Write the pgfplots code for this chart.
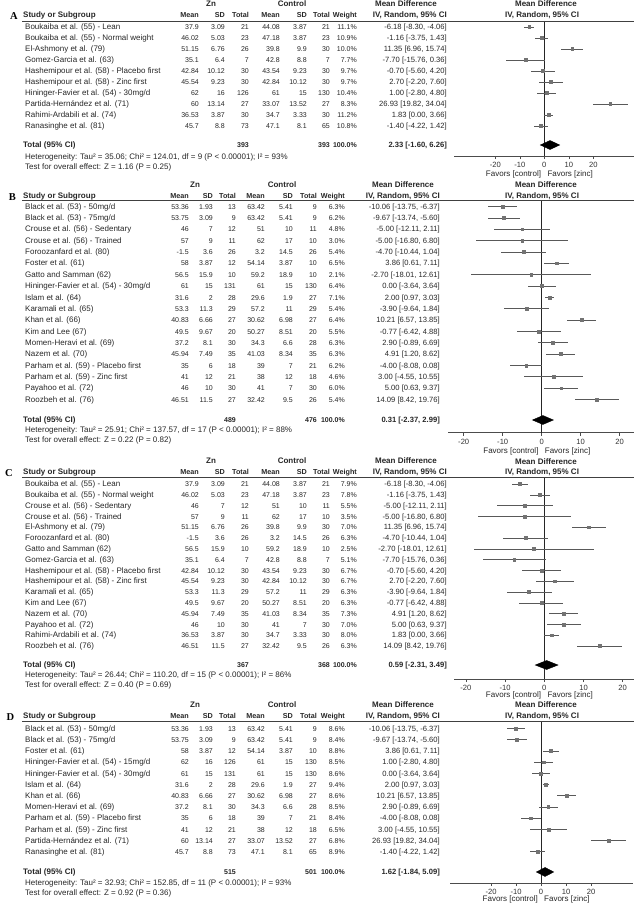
\documentclass[border=0pt]{standalone}
\usepackage{fontspec}
\setmainfont{Liberation Sans}
\newfontfamily\lserif{Liberation Serif}
\usepackage{pgfplots}
\pgfplotsset{compat=1.18}
\newcommand\fs{\fontsize{8.0}{9}\selectfont}
\newcommand\fn{\fontsize{7.0}{8.4}\selectfont}
\newcommand\fh{\fontsize{7.2}{8.6}\selectfont\bfseries}
\newcommand\fci{\fontsize{7.6}{9}\selectfont}
\tikzset{tx/.style={font=\fs, inner sep=0pt, text=black!85}}
\pgfplotsset{forest/.style={
  scale only axis, clip=false,
  axis x line*=bottom, axis y line=none,
  y dir=reverse,
  xtick={-20,-10,0,10,20}, xticklabels={-20,-10,0,10,20},
  tick align=outside, major tick length=3pt,
  tick style={black!70, line width=0.5pt},
  axis line style={black!70, line width=0.6pt},
  xticklabel style={font=\fci, text=black!80},
  ytick=\empty,
}}
\pgfplotsset{ci/.style={only marks, mark=square*, mark size=1.4pt,
  mark options={fill=black!55, draw=black!55},
  error bars/.cd, x dir=both, x explicit, error mark=none,
  error bar style={black!65, line width=0.6pt}}}

\def\cols{{199,225,249,280,307,330,357,447}}
\def\pz{27}\def\ps{11}
\def\znx{211}\def\ctlx{292}\def\mdx{406}

\newcommand\trow[3]{%
  \pgfmathsetmacro\ry{\pz+\ps*(#1-1)+2.7}%
  \node[tx,anchor=base west] at (25,\ry) {#2};
  \foreach \v [count=\i] in {#3}{%
    \pgfmathsetmacro\cx{\cols[\i-1]}%
    \ifnum\i<8 \def\ff{\fn}\else\def\ff{\fci}\fi
    \node[tx,font=\ff,anchor=base east] at (\cx,\ry) {\v};
  }%
}
\newcommand\header[1]{%
  \pgfmathsetmacro\hy{#1+2.7}%
  \pgfmathsetmacro\gy{#1-11+2.7}%
  \node[tx,font=\fs\bfseries,anchor=base] at (\znx,\gy) {Zn};
  \node[tx,font=\fs\bfseries,anchor=base] at (\ctlx,\gy) {Control};
  \node[tx,font=\fs\bfseries,anchor=base] at (\mdx,\gy) {Mean Difference};
  \node[tx,font=\fs\bfseries,anchor=base west] at (23,\hy) {Study or Subgroup};
  \foreach \v [count=\i] in {Mean,SD,Total,Mean,SD,Total,Weight,{IV, Random, 95\% CI}}{%
    \pgfmathsetmacro\cx{\cols[\i-1]}%
    \ifnum\i<8 \def\ff{\fh}\else\def\ff{\fs\bfseries}\fi
    \node[tx,font=\ff,anchor=base east] at (\cx,\hy) {\v};
  }%
}
\newcommand\total[4]{%
  \pgfmathsetmacro\ty{#1+2.7}%
  \node[tx,font=\fs\bfseries,anchor=base west] at (23,\ty) {Total (95\% CI)};
  \pgfmathsetmacro\cx{\cols[2]}\node[tx,font=\fn\bfseries,anchor=base east] at (\cx,\ty) {#2};
  \pgfmathsetmacro\cx{\cols[5]}\node[tx,font=\fn\bfseries,anchor=base east] at (\cx,\ty) {#3};
  \pgfmathsetmacro\cx{\cols[6]}\node[tx,font=\fn\bfseries,anchor=base east] at (\cx,\ty) {100.0\%};
  \pgfmathsetmacro\cx{\cols[7]}\node[tx,font=\fci\bfseries,anchor=base east] at (\cx,\ty) {#4};
}
\newcommand\foot[3]{% y, x0
  \node[tx,anchor=base east] at (#2-3,#1+2.7) {Favors [control]};
  \node[tx,anchor=base west] at (#2+3,#1+2.7) {Favors [zinc]};
}

\begin{document}
\begin{tikzpicture}
\path[use as bounding box] (0,0) rectangle (642pt,-904pt);

% ================= PANEL A =================
\begin{axis}[forest, at={(454pt,-156pt)}, anchor=south west, width=180pt, height=135pt,
  xmin=-36.857, xmax=36.612, ymin=0.4545, ymax=12.727]
\addplot[black!85, line width=0.6pt] coordinates {(0,0.4545) (0,12.727)};
\addplot[ci] table[x=md, y=k, x error plus expr=\thisrow{hi}-\thisrow{md}, x error minus expr=\thisrow{md}-\thisrow{lo}] {
k md lo hi
1 -6.18 -8.30 -4.06
2 -1.16 -3.75 1.43
3 11.35 6.96 15.74
4 -7.70 -15.76 0.36
5 -0.70 -5.60 4.20
6 2.70 -2.20 7.60
7 1.00 -2.80 4.80
8 26.93 19.82 34.04
9 1.83 0.00 3.66
10 -1.40 -4.22 1.42
};
\addplot[fill=black, draw=black] coordinates {(-1.60,11.727) (2.33,11.318) (6.26,11.727) (2.33,12.136)} -- cycle;
\end{axis}

% ================= PANEL B =================
\begin{axis}[forest, at={(448pt,-432.7pt)}, anchor=south west, width=186pt, height=232.2pt,
  xmin=-24.03, xmax=23.67, ymin=0.4714, ymax=20.93]
\addplot[black!85, line width=0.6pt] coordinates {(0,0.4714) (0,20.93)};
\addplot[ci] table[x=md, y=k, x error plus expr=\thisrow{hi}-\thisrow{md}, x error minus expr=\thisrow{md}-\thisrow{lo}] {
k md lo hi
1 -10.06 -13.75 -6.37
2 -9.67 -13.74 -5.60
3 -5.00 -12.11 2.11
4 -5.00 -16.80 6.80
5 -4.70 -10.44 1.04
6 3.86 0.61 7.11
7 -2.70 -18.01 12.61
8 0.00 -3.64 3.64
9 2.00 0.97 3.03
10 -3.90 -9.64 1.84
11 10.21 6.57 13.85
12 -0.77 -6.42 4.88
13 2.90 -0.89 6.69
14 4.91 1.20 8.62
15 -4.00 -8.08 0.08
16 3.00 -4.55 10.55
17 5.00 0.63 9.37
18 14.09 8.42 19.76
};
\addplot[fill=black, draw=black] coordinates {(-2.37,19.81) (0.31,19.414) (2.99,19.81) (0.31,20.206)} -- cycle;
\end{axis}

% ================= PANEL C =================
\begin{axis}[forest, at={(454pt,-679pt)}, anchor=south west, width=180pt, height=202pt,
  xmin=-23.04, xmax=22.88, ymin=0.352, ymax=19.056]
\addplot[black!85, line width=0.6pt] coordinates {(0,0.352) (0,19.056)};
\addplot[ci] table[x=md, y=k, x error plus expr=\thisrow{hi}-\thisrow{md}, x error minus expr=\thisrow{md}-\thisrow{lo}] {
k md lo hi
1 -6.18 -8.30 -4.06
2 -1.16 -3.75 1.43
3 -5.00 -12.11 2.11
4 -5.00 -16.80 6.80
5 11.35 6.96 15.74
6 -4.70 -10.44 1.04
7 -2.70 -18.01 12.61
8 -7.70 -15.76 0.36
9 -0.70 -5.60 4.20
10 2.70 -2.20 7.60
11 -3.90 -9.64 1.84
12 -0.77 -6.42 4.88
13 4.91 1.20 8.62
14 5.00 0.63 9.37
15 1.83 0.00 3.66
16 14.09 8.42 19.76
};
\addplot[fill=black, draw=black] coordinates {(-2.31,17.76) (0.59,17.343) (3.49,17.76) (0.59,18.177)} -- cycle;
\end{axis}

% ================= PANEL D =================
\begin{axis}[forest, at={(450pt,-883pt)}, anchor=south west, width=183pt, height=162pt,
  xmin=-36.4, xmax=36.8, ymin=0.3304, ymax=14.795]
\addplot[black!85, line width=0.6pt] coordinates {(0,0.3304) (0,14.795)};
\addplot[ci] table[x=md, y=k, x error plus expr=\thisrow{hi}-\thisrow{md}, x error minus expr=\thisrow{md}-\thisrow{lo}] {
k md lo hi
1 -10.06 -13.75 -6.37
2 -9.67 -13.74 -5.60
3 3.86 0.61 7.11
4 1.00 -2.80 4.80
5 0.00 -3.64 3.64
6 2.00 0.97 3.03
7 10.21 6.57 13.85
8 2.90 -0.89 6.69
9 -4.00 -8.08 0.08
10 3.00 -4.55 10.55
11 26.93 19.82 34.04
12 -1.40 -4.22 1.42
};
\addplot[fill=black, draw=black] coordinates {(-1.84,13.81) (1.62,13.408) (5.09,13.81) (1.62,14.212)} -- cycle;
\end{axis}

\begin{scope}[x=1pt, y=-1pt]
% right-hand column headers / axis titles
\foreach \yy in {4,185,462,705}{\node[tx,font=\fs\bfseries,anchor=base] at (546,\yy+2.7) {Mean Difference};}
\foreach \yy in {15,196,472,716}{\node[tx,font=\fs\bfseries,anchor=base] at (542,\yy+2.7) {IV, Random, 95\% CI};}

% ---------- A ----------
\node[anchor=base, inner sep=0pt, font=\lserif\fontsize{10.5}{12}\selectfont\bfseries] at (14,19.5) {A};
\header{15}
\draw[black!75, line width=0.6pt] (22,21) -- (634,21);
\def\pz{27}\def\ps{11}
\trow{1}{Boukaiba et al. (55) - Lean}{37.9,3.09,21,44.08,3.87,21,11.1\%,{-6.18 [-8.30, -4.06]}}
\trow{2}{Boukaiba et al. (55) - Normal weight}{46.02,5.03,23,47.18,3.87,23,10.9\%,{-1.16 [-3.75, 1.43]}}
\trow{3}{El-Ashmony et al. (79)}{51.15,6.76,26,39.8,9.9,30,10.0\%,{11.35 [6.96, 15.74]}}
\trow{4}{Gomez-Garcia et al. (63)}{35.1,6.4,7,42.8,8.8,7,7.7\%,{-7.70 [-15.76, 0.36]}}
\trow{5}{Hashemipour et al. (58) - Placebo first}{42.84,10.12,30,43.54,9.23,30,9.7\%,{-0.70 [-5.60, 4.20]}}
\trow{6}{Hashemipour et al. (58) - Zinc first}{45.54,9.23,30,42.84,10.12,30,9.7\%,{2.70 [-2.20, 7.60]}}
\trow{7}{Hininger-Favier et al. (54) - 30mg/d}{62,16,126,61,15,130,10.4\%,{1.00 [-2.80, 4.80]}}
\trow{8}{Partida-Hernández et al. (71)}{60,13.14,27,33.07,13.52,27,8.3\%,{26.93 [19.82, 34.04]}}
\trow{9}{Rahimi-Ardabili et al. (74)}{36.53,3.87,30,34.7,3.33,30,11.2\%,{1.83 [0.00, 3.66]}}
\trow{10}{Ranasinghe et al. (81)}{45.7,8.8,73,47.1,8.1,65,10.8\%,{-1.40 [-4.22, 1.42]}}
\total{145}{393}{393}{2.33 [-1.60, 6.26]}
\node[tx,anchor=base west] at (25,159.7) {Heterogeneity: Tau² = 35.06; Chi² = 124.01, df = 9 (P < 0.00001); I² = 93\%};
\node[tx,anchor=base west] at (25,169.7) {Test for overall effect: Z = 1.16 (P = 0.25)};
\foot{174}{544.3}{}

% ---------- B ----------
\def\cols{{189,213,236,265,293,317,345,440}}
\def\znx{195}\def\ctlx{282}\def\mdx{403}
\node[anchor=base, inner sep=0pt, font=\lserif\fontsize{10.5}{12}\selectfont\bfseries] at (12.5,200.5) {B};
\header{196}
\draw[black!75, line width=0.6pt] (22,200.5) -- (634,200.5);
\def\pz{206.5}\def\ps{11.35}
\trow{1}{Black et al. (53) - 50mg/d}{53.36,1.93,13,63.42,5.41,9,6.3\%,{-10.06 [-13.75, -6.37]}}
\trow{2}{Black et al. (53) - 75mg/d}{53.75,3.09,9,63.42,5.41,9,6.2\%,{-9.67 [-13.74, -5.60]}}
\trow{3}{Crouse et al. (56) - Sedentary}{46,7,12,51,10,11,4.8\%,{-5.00 [-12.11, 2.11]}}
\trow{4}{Crouse et al. (56) - Trained}{57,9,11,62,17,10,3.0\%,{-5.00 [-16.80, 6.80]}}
\trow{5}{Foroozanfard et al. (80)}{-1.5,3.6,26,3.2,14.5,26,5.4\%,{-4.70 [-10.44, 1.04]}}
\trow{6}{Foster et al. (61)}{58,3.87,12,54.14,3.87,10,6.5\%,{3.86 [0.61, 7.11]}}
\trow{7}{Gatto and Samman (62)}{56.5,15.9,10,59.2,18.9,10,2.1\%,{-2.70 [-18.01, 12.61]}}
\trow{8}{Hininger-Favier et al. (54) - 30mg/d}{61,15,131,61,15,130,6.4\%,{0.00 [-3.64, 3.64]}}
\trow{9}{Islam et al. (64)}{31.6,2,28,29.6,1.9,27,7.1\%,{2.00 [0.97, 3.03]}}
\trow{10}{Karamali et al. (65)}{53.3,11.3,29,57.2,11,29,5.4\%,{-3.90 [-9.64, 1.84]}}
\trow{11}{Khan et al. (66)}{40.83,6.66,27,30.62,6.98,27,6.4\%,{10.21 [6.57, 13.85]}}
\trow{12}{Kim and Lee (67)}{49.5,9.67,20,50.27,8.51,20,5.5\%,{-0.77 [-6.42, 4.88]}}
\trow{13}{Momen-Heravi et al. (69)}{37.2,8.1,30,34.3,6.6,28,6.3\%,{2.90 [-0.89, 6.69]}}
\trow{14}{Nazem et al. (70)}{45.94,7.49,35,41.03,8.34,35,6.3\%,{4.91 [1.20, 8.62]}}
\trow{15}{Parham et al. (59) - Placebo first}{35,6,18,39,7,21,6.2\%,{-4.00 [-8.08, 0.08]}}
\trow{16}{Parham et al. (59) - Zinc first}{41,12,21,38,12,18,4.6\%,{3.00 [-4.55, 10.55]}}
\trow{17}{Payahoo et al. (72)}{46,10,30,41,7,30,6.0\%,{5.00 [0.63, 9.37]}}
\trow{18}{Roozbeh et al. (76)}{46.51,11.5,27,32.42,9.5,26,5.4\%,{14.09 [8.42, 19.76]}}
\total{420}{489}{476}{0.31 [-2.37, 2.99]}
\node[tx,anchor=base west] at (25,432) {Heterogeneity: Tau² = 25.91; Chi² = 137.57, df = 17 (P < 0.00001); I² = 88\%};
\node[tx,anchor=base west] at (25,442) {Test for overall effect: Z = 0.22 (P = 0.82)};
\foot{451}{541.7}{}

% ---------- C ----------
\def\cols{{199,225,249,280,307,330,357,447}}
\def\znx{211}\def\ctlx{292}\def\mdx{406}
\node[anchor=base, inner sep=0pt, font=\lserif\fontsize{10.5}{12}\selectfont\bfseries] at (9,476.5) {C};
\header{472}
\draw[black!75, line width=0.6pt] (22,477) -- (634,477);
\def\pz{484}\def\ps{10.8}
\trow{1}{Boukaiba et al. (55) - Lean}{37.9,3.09,21,44.08,3.87,21,7.9\%,{-6.18 [-8.30, -4.06]}}
\trow{2}{Boukaiba et al. (55) - Normal weight}{46.02,5.03,23,47.18,3.87,23,7.8\%,{-1.16 [-3.75, 1.43]}}
\trow{3}{Crouse et al. (56) - Sedentary}{46,7,12,51,10,11,5.5\%,{-5.00 [-12.11, 2.11]}}
\trow{4}{Crouse et al. (56) - Trained}{57,9,11,62,17,10,3.5\%,{-5.00 [-16.80, 6.80]}}
\trow{5}{El-Ashmony et al. (79)}{51.15,6.76,26,39.8,9.9,30,7.0\%,{11.35 [6.96, 15.74]}}
\trow{6}{Foroozanfard et al. (80)}{-1.5,3.6,26,3.2,14.5,26,6.3\%,{-4.70 [-10.44, 1.04]}}
\trow{7}{Gatto and Samman (62)}{56.5,15.9,10,59.2,18.9,10,2.5\%,{-2.70 [-18.01, 12.61]}}
\trow{8}{Gomez-Garcia et al. (63)}{35.1,6.4,7,42.8,8.8,7,5.1\%,{-7.70 [-15.76, 0.36]}}
\trow{9}{Hashemipour et al. (58) - Placebo first}{42.84,10.12,30,43.54,9.23,30,6.7\%,{-0.70 [-5.60, 4.20]}}
\trow{10}{Hashemipour et al. (58) - Zinc first}{45.54,9.23,30,42.84,10.12,30,6.7\%,{2.70 [-2.20, 7.60]}}
\trow{11}{Karamali et al. (65)}{53.3,11.3,29,57.2,11,29,6.3\%,{-3.90 [-9.64, 1.84]}}
\trow{12}{Kim and Lee (67)}{49.5,9.67,20,50.27,8.51,20,6.3\%,{-0.77 [-6.42, 4.88]}}
\trow{13}{Nazem et al. (70)}{45.94,7.49,35,41.03,8.34,35,7.3\%,{4.91 [1.20, 8.62]}}
\trow{14}{Payahoo et al. (72)}{46,10,30,41,7,30,7.0\%,{5.00 [0.63, 9.37]}}
\trow{15}{Rahimi-Ardabili et al. (74)}{36.53,3.87,30,34.7,3.33,30,8.0\%,{1.83 [0.00, 3.66]}}
\trow{16}{Roozbeh et al. (76)}{46.51,11.5,27,32.42,9.5,26,6.3\%,{14.09 [8.42, 19.76]}}
\total{665}{367}{368}{0.59 [-2.31, 3.49]}
\node[tx,anchor=base west] at (25,677) {Heterogeneity: Tau² = 26.44; Chi² = 110.20, df = 15 (P < 0.00001); I² = 86\%};
\node[tx,anchor=base west] at (25,687) {Test for overall effect: Z = 0.40 (P = 0.69)};
\foot{695}{544.3}{}

% ---------- D ----------
\def\cols{{189,213,236,265,293,317,345,440}}
\def\znx{195}\def\ctlx{282}\def\mdx{403}
\node[anchor=base, inner sep=0pt, font=\lserif\fontsize{10.5}{12}\selectfont\bfseries] at (10.5,720.5) {D};
\header{716}
\draw[black!75, line width=0.6pt] (22,721) -- (634,721);
\def\pz{728.5}\def\ps{11.2}
\trow{1}{Black et al. (53) - 50mg/d}{53.36,1.93,13,63.42,5.41,9,8.6\%,{-10.06 [-13.75, -6.37]}}
\trow{2}{Black et al. (53) - 75mg/d}{53.75,3.09,9,63.42,5.41,9,8.4\%,{-9.67 [-13.74, -5.60]}}
\trow{3}{Foster et al. (61)}{58,3.87,12,54.14,3.87,10,8.8\%,{3.86 [0.61, 7.11]}}
\trow{4}{Hininger-Favier et al. (54) - 15mg/d}{62,16,126,61,15,130,8.5\%,{1.00 [-2.80, 4.80]}}
\trow{5}{Hininger-Favier et al. (54) - 30mg/d}{61,15,131,61,15,130,8.6\%,{0.00 [-3.64, 3.64]}}
\trow{6}{Islam et al. (64)}{31.6,2,28,29.6,1.9,27,9.4\%,{2.00 [0.97, 3.03]}}
\trow{7}{Khan et al. (66)}{40.83,6.66,27,30.62,6.98,27,8.6\%,{10.21 [6.57, 13.85]}}
\trow{8}{Momen-Heravi et al. (69)}{37.2,8.1,30,34.3,6.6,28,8.5\%,{2.90 [-0.89, 6.69]}}
\trow{9}{Parham et al. (59) - Placebo first}{35,6,18,39,7,21,8.4\%,{-4.00 [-8.08, 0.08]}}
\trow{10}{Parham et al. (59) - Zinc first}{41,12,21,38,12,18,6.5\%,{3.00 [-4.55, 10.55]}}
\trow{11}{Partida-Hernández et al. (71)}{60,13.14,27,33.07,13.52,27,6.8\%,{26.93 [19.82, 34.04]}}
\trow{12}{Ranasinghe et al. (81)}{45.7,8.8,73,47.1,8.1,65,8.9\%,{-1.40 [-4.22, 1.42]}}
\total{872}{515}{501}{1.62 [-1.84, 5.09]}
\node[tx,anchor=base west] at (25,885.7) {Heterogeneity: Tau² = 32.93; Chi² = 152.85, df = 11 (P < 0.00001); I² = 93\%};
\node[tx,anchor=base west] at (25,895.7) {Test for overall effect: Z = 0.92 (P = 0.36)};
\foot{898.5}{541}{}
\end{scope}
\end{tikzpicture}
\end{document}
